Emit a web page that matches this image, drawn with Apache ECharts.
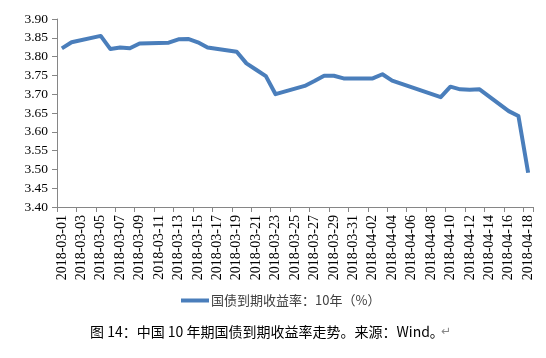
<!DOCTYPE html>
<html>
<head>
<meta charset="utf-8">
<script src="https://cdn.jsdelivr.net/npm/echarts@6/dist/echarts.min.js"></script>
<style>html,body{margin:0;padding:0;background:#fff;}#c{width:546px;height:358px;}</style>
</head>
<body>
<div id="c"></div>
<script>
// Calendar days 2018-03-01 .. 2018-04-18 (labels shown every other day)
const categories = [
  '2018-03-01','2018-03-02','2018-03-03','2018-03-04','2018-03-05','2018-03-06','2018-03-07',
  '2018-03-08','2018-03-09','2018-03-10','2018-03-11','2018-03-12','2018-03-13','2018-03-14',
  '2018-03-15','2018-03-16','2018-03-17','2018-03-18','2018-03-19','2018-03-20','2018-03-21',
  '2018-03-22','2018-03-23','2018-03-24','2018-03-25','2018-03-26','2018-03-27','2018-03-28',
  '2018-03-29','2018-03-30','2018-03-31','2018-04-01','2018-04-02','2018-04-03','2018-04-04',
  '2018-04-05','2018-04-06','2018-04-07','2018-04-08','2018-04-09','2018-04-10','2018-04-11',
  '2018-04-12','2018-04-13','2018-04-14','2018-04-15','2018-04-16','2018-04-17','2018-04-18'
];
// 10Y government bond yield (%), null = non-trading day (line connected across)
const yield10y = [
  3.822, 3.838, null, null, 3.855, 3.820, 3.824,
  3.822, 3.835, null, null, 3.837, 3.846, 3.847,
  3.838, 3.824, null, null, 3.813, 3.782, 3.765,
  3.748, 3.700, null, null, 3.722, 3.735, 3.749,
  3.749, 3.742, null, null, 3.742, 3.753, 3.736,
  null, null, null, null, 3.692, 3.720, 3.713,
  3.712, 3.713, null, null, 3.655, 3.642, 3.491
];
const seriesName = '国债到期收益率：10年（%）';
const captionText = '图 14：中国 10 年期国债到期收益率走势。来源：Wind。';
const yMin = 3.40, yMax = 3.90, yStep = 0.05;

const chart = echarts.init(document.getElementById('c'), null, {renderer: 'canvas'});
const serif = '"Liberation Serif", "Times New Roman", serif';
chart.setOption({
  animation: false,
  backgroundColor: '#ffffff',
  grid: {left: 57, right: 13, top: 19, bottom: 151, containLabel: false},
  xAxis: {
    type: 'category',
    data: categories,
    boundaryGap: true,
    axisLine: {lineStyle: {color: '#868686', width: 1}},
    axisTick: {show: true, interval: 1, length: 5, lineStyle: {color: '#868686'}},
    axisLabel: {interval: 1, rotate: 90, fontFamily: serif, fontSize: 14, color: '#000', margin: 8},
    splitLine: {show: false}
  },
  yAxis: {
    type: 'value',
    min: yMin, max: yMax, interval: yStep,
    axisLine: {show: true, lineStyle: {color: '#868686', width: 1}},
    axisTick: {show: true, length: 5, lineStyle: {color: '#868686'}},
    axisLabel: {formatter: v => v.toFixed(2), fontFamily: serif, fontSize: 13.5, color: '#000', margin: 9},
    splitLine: {show: false}
  },
  legend: {
    left: 176, top: 289,
    itemWidth: 28, itemHeight: 4, itemGap: 4,
    icon: 'rect',
    textStyle: {fontFamily: '"Noto Sans CJK SC", sans-serif', fontSize: 13, color: '#404040', padding: [0,0,0,-3]},
    data: [seriesName]
  },
  series: [{
    name: seriesName,
    type: 'line',
    data: yield10y,
    connectNulls: true,
    showSymbol: false,
    symbol: 'none',
    lineStyle: {color: '#4a7ebb', width: 4, join: 'round'},
    itemStyle: {color: '#4a7ebb'}
  }],
  graphic: [{
    type: 'text',
    left: 90, top: 325,
    style: {text: captionText, font: '14px "Noto Sans CJK SC", sans-serif', fill: '#000'}
  }, {
    type: 'text',
    left: 441, top: 326,
    style: {text: '↵', font: '12px "DejaVu Sans", sans-serif', fill: '#888'}
  }]
});
</script>
</body>
</html>
